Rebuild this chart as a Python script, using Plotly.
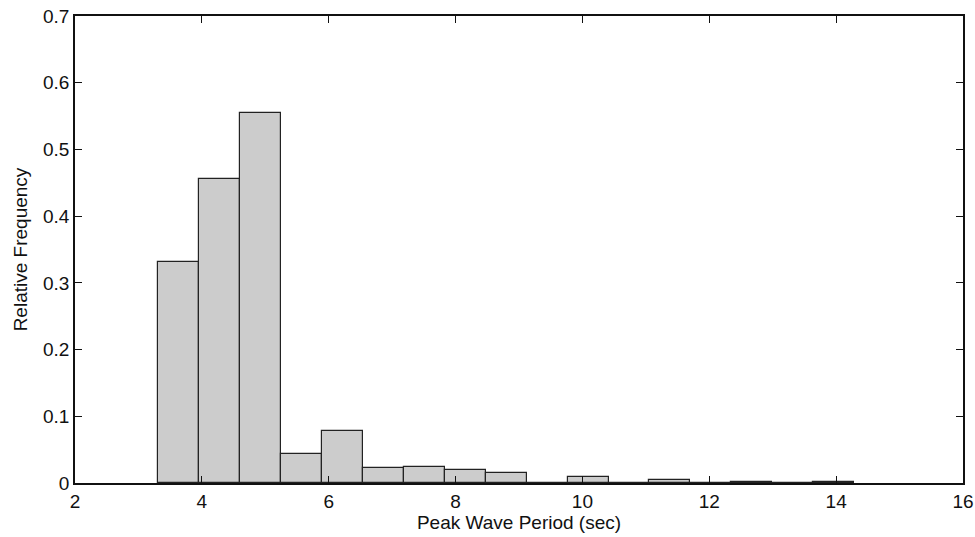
import plotly.graph_objects as go

# Histogram bin centres (Peak Wave Period, sec) and relative frequencies
bin_centers = [3.636, 4.281, 4.926, 5.572, 6.217, 6.862, 7.508, 8.153, 8.799,
               9.444, 10.089, 10.735, 11.380, 12.026, 12.671, 13.316, 13.962]
rel_freq = [0.332, 0.455, 0.554, 0.044, 0.078, 0.022, 0.024, 0.020, 0.0155,
            0.0005, 0.009, 0.0, 0.004, 0.0, 0.002, 0.0, 0.002]
bin_width = 0.6453

x_ticks = [2, 4, 6, 8, 10, 12, 14, 16]
y_ticks = [0, 0.1, 0.2, 0.3, 0.4, 0.5, 0.6, 0.7]
y_tick_text = ["0", "0.1", "0.2", "0.3", "0.4", "0.5", "0.6", "0.7"]

fig = go.Figure()
fig.add_trace(go.Bar(
    x=bin_centers,
    y=rel_freq,
    width=[bin_width] * len(bin_centers),
    marker=dict(color="#cccccc", line=dict(color="#222222", width=1.2)),
    showlegend=False,
))

font_family = "Arial, Liberation Sans, sans-serif"
fig.update_layout(
    width=975, height=537,
    margin=dict(l=75, r=12, t=16, b=54),
    plot_bgcolor="white",
    paper_bgcolor="white",
    font=dict(family=font_family, size=19, color="#111111"),
    bargap=0,
)
fig.update_xaxes(
    range=[2, 16],
    tickvals=x_ticks,
    ticktext=[str(v) for v in x_ticks],
    ticks="inside", ticklen=7, tickcolor="#111111", tickwidth=1,
    showline=True, linecolor="#111111", linewidth=1.5, mirror="ticks",
    showgrid=False, zeroline=False, automargin=False,
    title=dict(text="Peak Wave Period (sec)", font=dict(size=19), standoff=4),
)
fig.update_yaxes(
    range=[0, 0.7],
    tickvals=y_ticks,
    ticktext=y_tick_text,
    ticks="inside", ticklen=7, tickcolor="#111111", tickwidth=1,
    showline=True, linecolor="#111111", linewidth=1.5, mirror="ticks",
    showgrid=False, zeroline=False, automargin=False,
    title=dict(text="Relative Frequency", font=dict(size=19), standoff=10),
)

fig.write_html("out.html")
